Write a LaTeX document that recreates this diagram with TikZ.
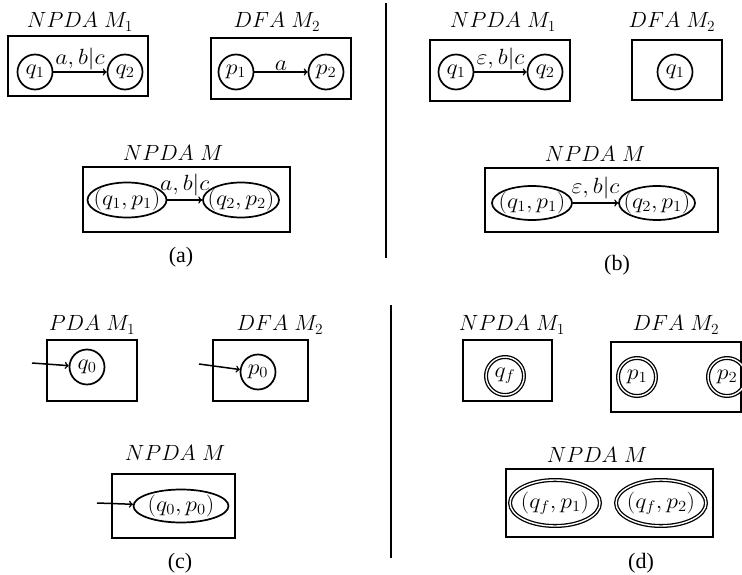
\RequirePackage{fix-cm}
\documentclass[tikz,border=0pt]{standalone}
\usepackage{fontspec}
\setmainfont{Liberation Serif}
\usepackage{graphicx}
\usetikzlibrary{shapes.geometric}
\newcommand{\stx}[1]{\scalebox{1.08}[1]{#1}}
\tikzset{
  txt/.style={inner sep=0pt, font=\fontsize{22}{26}\selectfont},
  frame/.style={draw, line width=2pt},
  st/.style={draw, circle, line width=1.7pt, minimum size=35pt, inner sep=0pt},
  acc/.style={draw, circle, line width=1.3pt, double, double distance=1.4pt, minimum size=38pt, inner sep=0pt},
  stel/.style={draw, ellipse, line width=1.7pt, inner sep=0pt},
  accel/.style={draw, ellipse, line width=1.3pt, double, double distance=1.4pt, inner sep=0pt},
  tr/.style={->, line width=1.5pt},
  lab/.style={label={[txt]center:#1}},
  sep/.style={line width=2pt},
}
\begin{document}
\begin{tikzpicture}[x=1pt,y=-1pt]
\useasboundingbox (0,0) rectangle (742,575);

% ---------- (a) ----------
\node[txt] (ta1) at (80,22) {$NPDA\;M_1$};
\draw[frame] (8,36) rectangle (148,96);
\node[st, lab={\stx{$q_1$}}] (aq1) at (35,72) {};
\node[st, lab={\stx{$q_2$}}] (aq2) at (125,72) {};
\draw[tr] (aq1) -- node[txt, above=1pt] (la1) {\stx{$a,b|c$}} (aq2);

\node[txt] (ta2) at (277,22) {$DFA\;M_2$};
\draw[frame] (211,38) rectangle (351,99);
\node[st, lab={\stx{$p_1$}}] (ap1) at (236,72) {};
\node[st, lab={\stx{$p_2$}}] (ap2) at (326,72) {};
\draw[tr] (ap1) -- node[txt, above=1pt] (la2) {\stx{$a$}} (ap2);

\node[txt] (ta3) at (173,153) {$NPDA\;M$};
\draw[frame] (83,167) rectangle (290,232);
\node[stel, minimum width=79pt, minimum height=35pt, lab={\stx{$(q_1,p_1)$}}] (ae1) at (127,200) {};
\node[stel, minimum width=76pt, minimum height=35pt, lab={\stx{$(q_2,p_2)$}}] (ae2) at (241,200) {};
\draw[tr] (ae1) -- node[txt, above=3pt] (la3) {\stx{$a,b|c$}} (ae2);
\node[txt] (capa) at (181,257) {(a)};

% separator top
\coordinate (s1) at (386,3);
\coordinate (s2) at (386,258);
\draw[sep] (s1) -- (s2);

% ---------- (b) ----------
\node[txt] (tb1) at (503,22) {$NPDA\;M_1$};
\draw[frame] (430,40) rectangle (570,101);
\node[st, lab={\stx{$q_1$}}] (bq1) at (456,72) {};
\node[st, lab={\stx{$q_2$}}] (bq2) at (545,72) {};
\draw[tr] (bq1) -- node[txt, above=1pt] (lb1) {\stx{$\varepsilon,b|c$}} (bq2);

\node[txt] (tb2) at (672,22) {$DFA\;M_2$};
\draw[frame] (632,40) rectangle (722,100);
\node[st, lab={\stx{$q_1$}}] (bq3) at (675,72) {};

\node[txt] (tb3) at (595,154) {$NPDA\;M$};
\draw[frame] (485,168) rectangle (718,232);
\node[stel, minimum width=80pt, minimum height=34pt, lab={\stx{$(q_1,p_1)$}}] (be1) at (532,203) {};
\node[stel, minimum width=76pt, minimum height=34pt, lab={\stx{$(q_2,p_1)$}}] (be2) at (657,203) {};
\draw[tr] (be1) -- node[txt, above=3pt] (lb2) {\stx{$\varepsilon,b|c$}} (be2);
\node[txt] (capb) at (617,265) {(b)};

% ---------- (c) ----------
\node[txt] (tc1) at (92,325) {$PDA\;M_1$};
\draw[frame] (47,340) rectangle (137,401);
\node[st, lab={\stx{$q_0$}}] (cq0) at (87,367) {};
\coordinate (cs1) at (32,363);
\draw[tr] (cs1) -- (cq0);

\node[txt] (tc2) at (280,325) {$DFA\;M_2$};
\draw[frame] (213,340) rectangle (308,401);
\node[st, lab={\stx{$p_0$}}] (cp0) at (258,372) {};
\coordinate (cs2) at (199,364);
\draw[tr] (cs2) -- (cp0);

\node[txt] (tc3) at (175,453) {$NPDA\;M$};
\draw[frame] (112,474) rectangle (235,538);
\node[stel, minimum width=95pt, minimum height=33pt, lab={\stx{$(q_0,p_0)$}}] (ce1) at (181,506) {};
\coordinate (cs3) at (97,503);
\draw[tr] (cs3) -- (ce1);
\node[txt] (capc) at (180,563) {(c)};

% separator bottom
\coordinate (s3) at (391,305);
\coordinate (s4) at (391,558);
\draw[sep] (s3) -- (s4);

% ---------- (d) ----------
\node[txt] (td1) at (512,325) {$NPDA\;M_1$};
\draw[frame] (463,340) rectangle (552,401);
\node[acc, lab={\stx{$q_f$}}] (dqf) at (505,376) {};

\node[txt] (td2) at (676,325) {$DFA\;M_2$};
\draw[frame] (611,342) rectangle (741,412);
\node[acc, lab={\stx{$p_1$}}] (dp1) at (637,377) {};
\node[acc, lab={\stx{$p_2$}}] (dp2) at (727,377) {};

\node[txt] (td3) at (597,455) {$NPDA\;M$};
\draw[frame] (506,469) rectangle (713,537);
\node[accel, minimum width=90pt, minimum height=46pt, lab={\stx{$(q_f,p_1)$}}] (de1) at (555,503) {};
\node[accel, minimum width=90pt, minimum height=46pt, lab={\stx{$(q_f,p_2)$}}] (de2) at (661,503) {};
\node[txt] (capd) at (641,563) {(d)};
\end{tikzpicture}
\end{document}
